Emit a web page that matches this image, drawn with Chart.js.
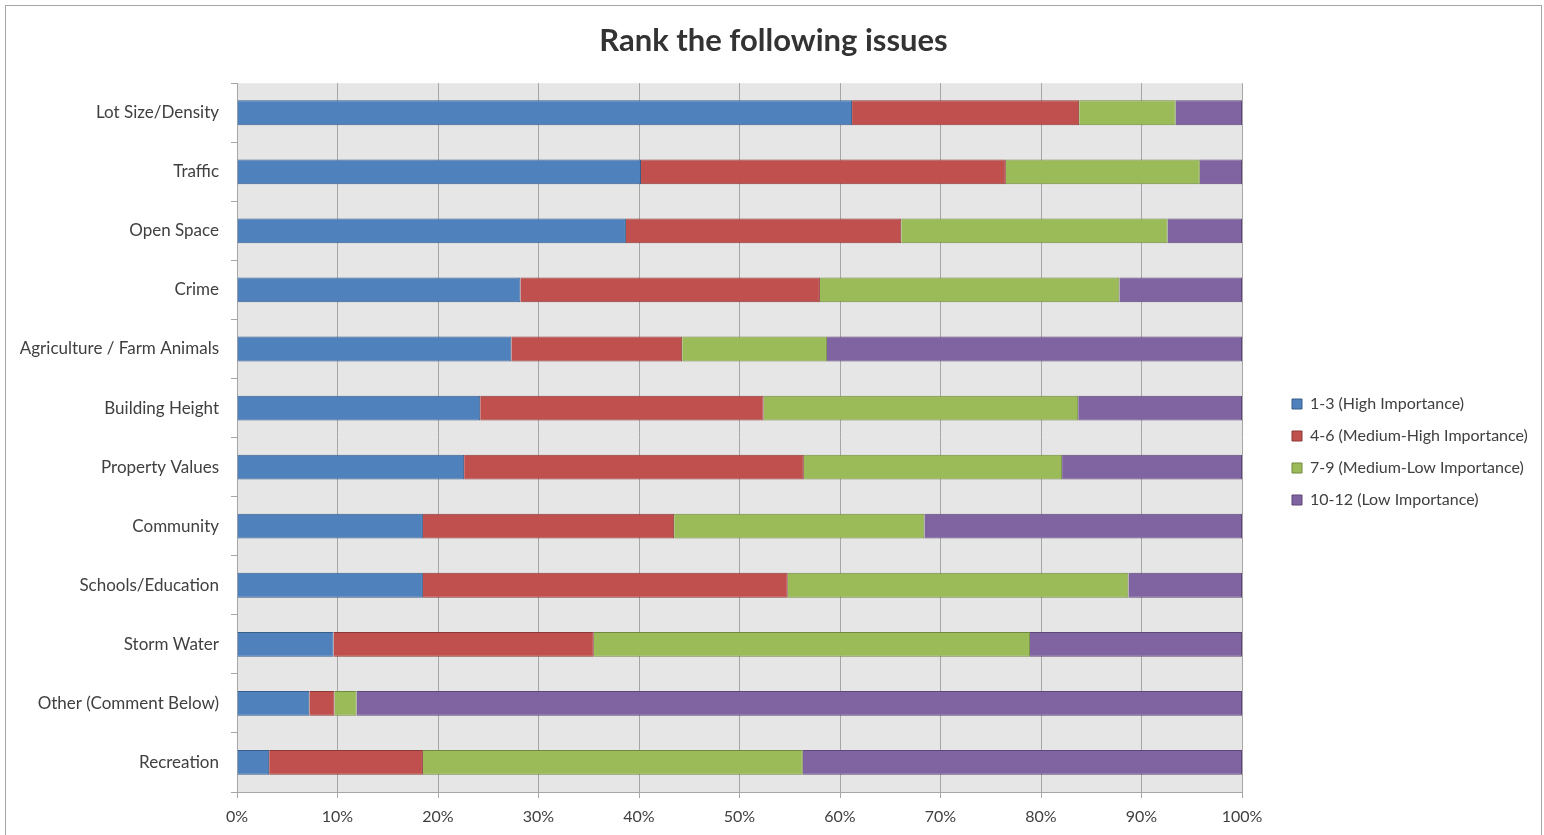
<!DOCTYPE html>
<html>
<head>
<meta charset="utf-8">
<title>Rank the following issues</title>
<script src="https://cdn.jsdelivr.net/npm/chart.js@4.4.1/dist/chart.umd.min.js"></script>
<style>
  html, body { margin: 0; padding: 0; background: #fff; overflow: hidden; }
  #chartWrap {
    position: absolute; left: 5px; top: 5px;
    width: 1535px; height: 840px;
    border: 1px solid #a6a6a6;
  }
  canvas { display: block; }
</style>
</head>
<body>
<div id="chartWrap"><canvas id="barChart"></canvas></div>
<script>
// issues, top to bottom
const categories = [
  "Lot Size/Density", "Traffic", "Open Space", "Crime",
  "Agriculture / Farm Animals", "Building Height", "Property Values",
  "Community", "Schools/Education", "Storm Water",
  "Other (Comment Below)", "Recreation",
];

// share of answers (%) per rank group
const highImp    = [61.2, 40.2, 38.7, 28.2, 27.3, 24.2, 22.6, 18.5, 18.5,  9.6,  7.2,  3.2];
const medHighImp = [22.6, 36.3, 27.4, 29.8, 17.0, 28.2, 33.8, 25.0, 36.3, 25.9,  2.5, 15.3];
const medLowImp  = [ 9.6, 19.3, 26.5, 29.8, 14.4, 31.3, 25.7, 24.9, 33.9, 43.4,  2.2, 37.8];
const lowImp     = [ 6.6,  4.2,  7.4, 12.2, 41.3, 16.3, 17.9, 31.6, 11.3, 21.1, 88.1, 43.7];

const seriesNames = [
  "1-3 (High Importance)",
  "4-6 (Medium-High Importance)",
  "7-9 (Medium-Low Importance)",
  "10-12 (Low Importance)",
];

const xTicks = [0, 10, 20, 30, 40, 50, 60, 70, 80, 90, 100];

const FONT = "Lato, 'Open Sans', sans-serif";
const TEXT = "#404040";
const GRID = "#a6a6a6";

const fills   = ["#4f81bd", "#c0504d", "#9bbb59", "#8064a2"];
const borders = ["#385d8a", "#8c3836", "#71893f", "#5c4776"];

const datasets = [highImp, medHighImp, medLowImp, lowImp].map((data, i) => ({
  label: seriesNames[i],
  data,
  backgroundColor: fills[i],
  borderColor: borders[i],
  borderWidth: 1,
  categoryPercentage: 1,
  barPercentage: 0.42,
}));

// grey plot area like the spreadsheet chart
const plotBg = {
  id: "plotBg",
  beforeDraw(chart) {
    const { ctx, chartArea: a } = chart;
    ctx.save();
    ctx.fillStyle = "#e6e6e6";
    ctx.fillRect(a.left, a.top, a.width, a.height);
    ctx.restore();
  },
};

// widen the legend column and push its items away from the plot
const legendGap = {
  id: "legendGap",
  beforeInit(chart) {
    const legend = chart.legend;
    const fit = legend.fit;
    legend.fit = function () {
      fit.call(this);
      this.width = 299;
    };
  },
  afterLayout(chart) {
    const l = chart.legend;
    l.left += 34;
    l.top += 31;
    l.bottom += 31;
  },
};

new Chart(document.getElementById("barChart"), {
  type: "bar",
  data: { labels: categories, datasets },
  plugins: [plotBg, legendGap],
  options: {
    indexAxis: "y",
    responsive: true,
    maintainAspectRatio: false,
    animation: false,
    layout: { padding: { left: 0, right: 0, top: 0, bottom: 10 } },
    plugins: {
      title: {
        display: true,
        text: "Rank the following issues",
        color: "#333333",
        font: { family: FONT, size: 31, weight: "bold" },
        padding: { top: 16, bottom: 24 },
      },
      legend: {
        position: "right",
        align: "center",
        labels: {
          boxWidth: 10,
          boxHeight: 10,
          padding: 16,
          color: TEXT,
          font: { family: FONT, size: 16 },
        },
      },
      tooltip: { enabled: false },
    },
    scales: {
      x: {
        stacked: true,
        min: 0,
        max: 100,
        afterBuildTicks(scale) {
          scale.ticks = xTicks.map((v) => ({ value: v }));
        },
        ticks: {
          callback: (v) => v + "%",
          color: TEXT,
          font: { family: FONT, size: 16 },
          padding: 9,
          maxRotation: 0,
        },
        grid: { color: GRID, tickLength: 6, lineWidth: 1 },
        border: { color: GRID },
        afterFit(scale) {
          scale.height = 44;
        },
      },
      y: {
        stacked: true,
        ticks: {
          color: TEXT,
          font: { family: FONT, size: 17 },
          padding: 12,
        },
        grid: {
          offset: true,
          drawOnChartArea: false,
          tickLength: 6,
          color: GRID,
        },
        border: { color: GRID },
        afterFit(scale) {
          scale.width = 231;
        },
      },
    },
  },
});
</script>
</body>
</html>
